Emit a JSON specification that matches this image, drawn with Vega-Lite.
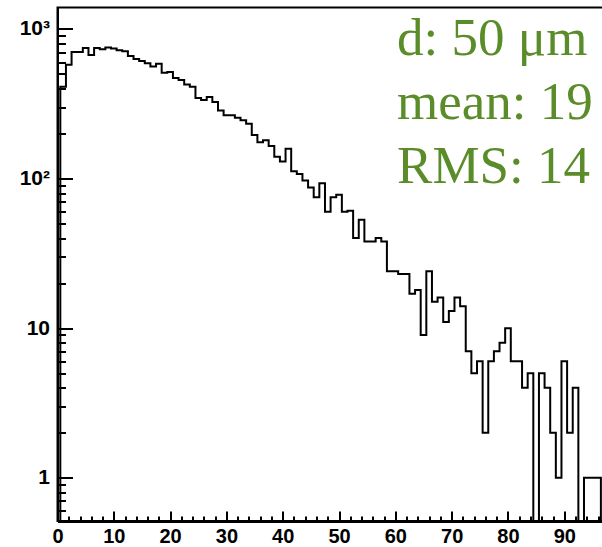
{
  "$schema": "https://vega.github.io/schema/vega-lite/v6.json",
  "width": 546.2,
  "height": 513.5,
  "autosize": "none",
  "padding": {"left": 57.5, "top": 7.5, "right": -1.7, "bottom": 26},
  "background": "white",
  "config": {"view": {"stroke": "black", "strokeWidth": 2}},
  "data": {"values": [
    {"bin": 0, "count": 0.1}, {"bin": 1, "count": 410}, {"bin": 2, "count": 575}, {"bin": 3, "count": 700},
    {"bin": 4, "count": 700}, {"bin": 5, "count": 745}, {"bin": 6, "count": 670}, {"bin": 7, "count": 745},
    {"bin": 8, "count": 730}, {"bin": 9, "count": 750}, {"bin": 10, "count": 740}, {"bin": 11, "count": 720},
    {"bin": 12, "count": 710}, {"bin": 13, "count": 660}, {"bin": 14, "count": 630}, {"bin": 15, "count": 610},
    {"bin": 16, "count": 590}, {"bin": 17, "count": 560}, {"bin": 18, "count": 585}, {"bin": 19, "count": 510},
    {"bin": 20, "count": 515}, {"bin": 21, "count": 470}, {"bin": 22, "count": 455}, {"bin": 23, "count": 425},
    {"bin": 24, "count": 410}, {"bin": 25, "count": 345}, {"bin": 26, "count": 335}, {"bin": 27, "count": 350},
    {"bin": 28, "count": 325}, {"bin": 29, "count": 285}, {"bin": 30, "count": 265}, {"bin": 31, "count": 265},
    {"bin": 32, "count": 255}, {"bin": 33, "count": 245}, {"bin": 34, "count": 232}, {"bin": 35, "count": 195},
    {"bin": 36, "count": 175}, {"bin": 37, "count": 180}, {"bin": 38, "count": 165}, {"bin": 39, "count": 140},
    {"bin": 40, "count": 130}, {"bin": 41, "count": 158}, {"bin": 42, "count": 112}, {"bin": 43, "count": 107},
    {"bin": 44, "count": 97}, {"bin": 45, "count": 87}, {"bin": 46, "count": 75}, {"bin": 47, "count": 93},
    {"bin": 48, "count": 60}, {"bin": 49, "count": 75}, {"bin": 50, "count": 78}, {"bin": 51, "count": 60},
    {"bin": 52, "count": 61}, {"bin": 53, "count": 40}, {"bin": 54, "count": 53}, {"bin": 55, "count": 38},
    {"bin": 56, "count": 38}, {"bin": 57, "count": 40}, {"bin": 58, "count": 38}, {"bin": 59, "count": 24},
    {"bin": 60, "count": 24}, {"bin": 61, "count": 23}, {"bin": 62, "count": 23}, {"bin": 63, "count": 17},
    {"bin": 64, "count": 18}, {"bin": 65, "count": 9}, {"bin": 66, "count": 24}, {"bin": 67, "count": 15},
    {"bin": 68, "count": 16}, {"bin": 69, "count": 11}, {"bin": 70, "count": 13}, {"bin": 71, "count": 16},
    {"bin": 72, "count": 14}, {"bin": 73, "count": 7}, {"bin": 74, "count": 5}, {"bin": 75, "count": 6},
    {"bin": 76, "count": 2}, {"bin": 77, "count": 6}, {"bin": 78, "count": 7}, {"bin": 79, "count": 8},
    {"bin": 80, "count": 10}, {"bin": 81, "count": 6}, {"bin": 82, "count": 6}, {"bin": 83, "count": 4},
    {"bin": 84, "count": 5}, {"bin": 85, "count": 0.1}, {"bin": 86, "count": 5}, {"bin": 87, "count": 4},
    {"bin": 88, "count": 2}, {"bin": 89, "count": 1}, {"bin": 90, "count": 6}, {"bin": 91, "count": 2},
    {"bin": 92, "count": 4}, {"bin": 93, "count": 0.1}, {"bin": 94, "count": 1}, {"bin": 95, "count": 1},
    {"bin": 96, "count": 1}, {"bin": 97, "count": 0.1}, {"bin": 98, "count": 0.1}
  ]},
  "layer": [
    {
      "mark": {"type": "line", "interpolate": "step", "color": "black", "strokeWidth": 2, "clip": true},
      "encoding": {
        "x": {"field": "bin", "type": "quantitative",
          "scale": {"domain": [0, 97], "nice": false, "zero": false},
          "axis": {"orient": "bottom", "values": [0, 10, 20, 30, 40, 50, 60, 70, 80, 90],
            "tickSize": -10, "tickWidth": 2, "tickColor": "black",
            "domainColor": "black", "domainWidth": 3,
            "labelFont": "Liberation Sans", "labelFontWeight": "bold", "labelFontSize": 20, "labelColor": "black",
            "labelPadding": 15, "labelFlush": false, "labelOverlap": false, "labelBound": false,
            "grid": false, "title": null}},
        "y": {"field": "count", "type": "quantitative",
          "scale": {"type": "log", "domain": [0.514, 1390], "nice": false},
          "axis": {"orient": "left", "values": [1, 10, 100, 1000],
            "labelExpr": "datum.value >= 1000 ? '10³' : datum.value >= 100 ? '10²' : datum.value >= 10 ? '10' : '1'",
            "tickSize": -15, "tickWidth": 2, "tickColor": "black",
            "domainColor": "black", "domainWidth": 2,
            "labelFont": "Liberation Sans", "labelFontWeight": "bold", "labelFontSize": 21, "labelColor": "black",
            "labelPadding": 23, "labelOverlap": false, "labelBound": false, "labelFlush": false,
            "grid": false, "title": null}}
      }
    },
    {
      "data": {"values": [{"label": "d: 50 μm\nmean: 19\nRMS: 14"}]},
      "mark": {"type": "text", "align": "left", "baseline": "alphabetic", "font": "Liberation Serif",
        "fontSize": 53, "lineHeight": 64, "lineBreak": "\n", "color": "#5b8c2a"},
      "encoding": {
        "text": {"field": "label"},
        "x": {"datum": 60.3, "type": "quantitative",
          "axis": {"orient": "bottom", "values": [2, 4, 6, 8, 12, 14, 16, 18, 22, 24, 26, 28, 32, 34, 36, 38, 42, 44, 46, 48, 52, 54, 56, 58, 62, 64, 66, 68, 72, 74, 76, 78, 82, 84, 86, 88, 92, 94, 96],
            "tickSize": -5, "tickWidth": 2, "tickColor": "black", "labels": false, "domain": false,
            "grid": false, "title": null}},
        "y": {"datum": 669, "type": "quantitative", "scale": {"type": "log"},
          "axis": {"orient": "left", "values": [0.6, 0.7, 0.8, 0.9, 2, 3, 4, 5, 6, 7, 8, 9, 20, 30, 40, 50, 60, 70, 80, 90, 200, 300, 400, 500, 600, 700, 800, 900],
            "tickSize": -8, "tickWidth": 2, "tickColor": "black", "labels": false, "domain": false,
            "grid": false, "title": null}}
      }
    }
  ],
  "resolve": {"axis": {"x": "independent", "y": "independent"}}
}
